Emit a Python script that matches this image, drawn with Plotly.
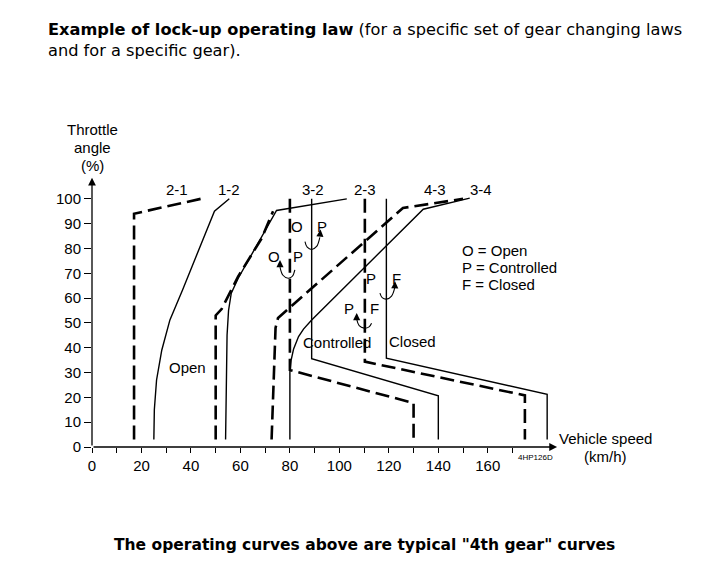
import plotly.graph_objects as go

# shift laws: vehicle speed (km/h) vs throttle angle (%)
law_21_speed = [17, 17, 44]
law_21_throttle = [3, 94, 100]

law_12_speed = [25.0, 25.2, 26.1, 28.2, 31.5, 36.6, 49.5, 55.5]
law_12_throttle = [3, 15, 27, 39, 51.2, 63.3, 95, 100]

law_a_speed = [50, 50, 52.4, 55.8, 59.1, 68.6, 73.2]
law_a_throttle = [3, 53, 55.6, 62.2, 68.7, 84.1, 95]

law_b_speed = [54.0, 54.2, 54.6, 55.2, 56.3, 59.1, 65.9, 74.6, 103]
law_b_throttle = [3, 30, 45, 55, 62, 68, 80, 95.3, 100]

law_c_speed = [72.6, 74.2, 75.2, 125.7, 150]
law_c_throttle = [3, 48, 52, 96.3, 100]

law_d_speed = [80, 80, 80.5, 81.5, 83.5, 85.5, 88.8, 133.9, 152.7]
law_d_throttle = [3, 30, 35, 39.5, 44.5, 47.5, 51.2, 95.8, 100.3]

# lock-up laws
lu_32_dash_speed = [80, 80, 130, 130]
lu_32_dash_throttle = [100, 31, 17.7, 3]
lu_32_solid_speed = [88.8, 88.8, 140, 140]
lu_32_solid_throttle = [100, 35.6, 20.6, 3]
lu_23_dash_speed = [110.3, 110.3, 175, 175]
lu_23_dash_throttle = [100, 34.4, 20.8, 3]
lu_43_solid_speed = [119, 119, 184, 184]
lu_43_solid_throttle = [100, 35.8, 21.2, 3]

dashed = [
    (law_21_speed, law_21_throttle),
    (law_a_speed, law_a_throttle),
    (law_c_speed, law_c_throttle),
    (lu_32_dash_speed, lu_32_dash_throttle),
    (lu_23_dash_speed, lu_23_dash_throttle),
]
solid = [
    (law_12_speed, law_12_throttle),
    (law_b_speed, law_b_throttle),
    (law_d_speed, law_d_throttle),
    (lu_32_solid_speed, lu_32_solid_throttle),
    (lu_43_solid_speed, lu_43_solid_throttle),
]

# curved transition arrows (speed, throttle)
arcs = [
    ([86.1, 87.0, 88.8, 90.8, 92.1], [82.8, 80.5, 79.6, 80.8, 84.5]),
    ([82.0, 81.0, 79.3, 77.2, 76.0], [71.4, 68.8, 68.0, 69.2, 72.5]),
    ([116.4, 117.3, 119.1, 121.1, 122.4], [62.0, 60.2, 59.6, 60.8, 64.2]),
    ([113.0, 112.0, 110.0, 108.0, 107.0], [49.9, 48.4, 47.9, 48.9, 51.5]),
]
arrow_tips = [(92.4, 87.6), (76.0, 75.3), (122.5, 66.8), (107.0, 54.0)]
arc_letters = [
    ("O", 82.7, 88.8), ("P", 92.8, 88.8),
    ("O", 73.5, 76.7), ("P", 83.4, 76.7),
    ("P", 112.7, 68.0), ("F", 123.1, 68.0),
    ("P", 104.0, 55.9), ("F", 114.3, 55.9),
]

top_labels = ["2-1", "1-2", "3-2", "2-3", "4-3", "3-4"]
top_label_speed = [34.2, 55.4, 89.5, 110.3, 138.6, 157.4]

zone_labels = [("Open", 38.8, 31.9), ("Controlled", 99.2, 42.2), ("Closed", 129.7, 42.5)]
key_lines = ["O = Open", "P = Controlled", "F = Closed"]
key_throttle = [79.2, 72.2, 65.3]

x_ticks = list(range(0, 180, 10))
x_text = [str(v) if v % 20 == 0 and v <= 160 else "" for v in x_ticks]
y_ticks = list(range(0, 110, 10))

FONT = "Liberation Sans, Arial, sans-serif"
WIDE = "DejaVu Sans, Liberation Sans, sans-serif"

fig = go.Figure()
for sx, sy in dashed:
    fig.add_trace(go.Scatter(x=sx, y=sy, mode="lines",
                             line=dict(color="black", width=2.6, dash="14px,6px")))
for sx, sy in solid:
    fig.add_trace(go.Scatter(x=sx, y=sy, mode="lines",
                             line=dict(color="black", width=1.4)))
for sx, sy in arcs:
    fig.add_trace(go.Scatter(x=sx, y=sy, mode="lines", line_shape="spline",
                             line=dict(color="black", width=1.1)))

ann = []
for (sx, sy), (tx, ty) in zip(arcs, arrow_tips):
    ann.append(dict(x=tx, y=ty, ax=sx[-1], ay=sy[-1], xref="x", yref="y",
                    axref="x", ayref="y", showarrow=True, arrowhead=2,
                    arrowsize=1.3, arrowwidth=1.1, arrowcolor="black", text=""))
for t, sx, sy in arc_letters:
    ann.append(dict(x=sx, y=sy, text=t, showarrow=False, font=dict(size=15)))
for t, sx in zip(top_labels, top_label_speed):
    ann.append(dict(x=sx, y=103.6, text=t, showarrow=False, font=dict(size=15)))
for t, sx, sy in zone_labels:
    ann.append(dict(x=sx, y=sy, text=t, showarrow=False, font=dict(size=15)))
for t, sy in zip(key_lines, key_throttle):
    ann.append(dict(x=148.7, y=sy, text=t, showarrow=False, xanchor="left",
                    font=dict(size=15)))

# axes with arrowheads
ann.append(dict(x=188, y=0, ax=0, ay=0, xref="x", yref="y", axref="x", ayref="y",
                showarrow=True, arrowhead=2, arrowsize=1.2, arrowwidth=1.3,
                arrowcolor="black", text=""))
ann.append(dict(x=0, y=108.5, ax=0, ay=0, xref="x", yref="y", axref="x", ayref="y",
                showarrow=True, arrowhead=2, arrowsize=1.2, arrowwidth=1.3,
                arrowcolor="black", text=""))

# texts outside the plotting area (paper coordinates)
for t, py in zip(["Throttle", "angle", "(%)"], [1.162, 1.098, 1.03]):
    ann.append(dict(x=0.001, y=py, xref="paper", yref="paper", showarrow=False,
                    xanchor="center", yanchor="middle", text=t, font=dict(size=15)))
for t, py in zip(["Vehicle speed", "(km/h)"], [0.032, -0.033]):
    ann.append(dict(x=1.093, y=py, xref="paper", yref="paper", showarrow=False,
                    xanchor="center", yanchor="middle", text=t, font=dict(size=15)))
ann.append(dict(x=0.944, y=-0.039, xref="paper", yref="paper", showarrow=False,
                xanchor="center", yanchor="middle",
                text="4HP126D", font=dict(size=8)))
ann.append(dict(x=-0.0978, y=1.492, xref="paper", yref="paper", xanchor="left",
                yanchor="middle", align="left", showarrow=False,
                text="<b>Example of lock-up operating law</b> (for a specific set of gear changing laws"
                     "<br>and for a specific gear).",
                font=dict(size=16.2, family=WIDE)))
ann.append(dict(x=0.5805, y=-0.359, xref="paper", yref="paper", showarrow=False,
                xanchor="center", yanchor="middle",
                text="<b>The operating curves above are typical \"4th gear\" curves</b>",
                font=dict(size=15.5, family=WIDE)))

fig.update_layout(
    width=726, height=574,
    margin=dict(l=84, r=171.75, t=166.2, b=135, pad=0),
    plot_bgcolor="white", paper_bgcolor="white",
    showlegend=False,
    font=dict(family=FONT, color="black", size=15),
    annotations=ann,
    xaxis=dict(range=[0, 190], showgrid=False, zeroline=False, showline=False,
               tickvals=x_ticks, ticktext=x_text, ticks="outside", ticklen=5,
               tickcolor="black", tickfont=dict(size=15)),
    yaxis=dict(range=[0, 110], showgrid=False, zeroline=False, showline=False,
               tickvals=y_ticks, ticks="outside", ticklen=7, tickcolor="black",
               tickfont=dict(size=15)),
)

fig.write_html("out.html")
